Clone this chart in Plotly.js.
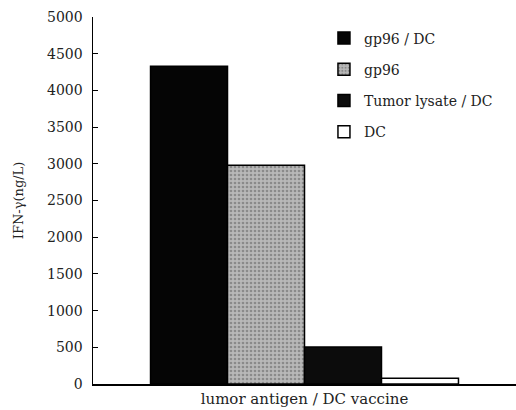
<!DOCTYPE html>
<html><head><meta charset="utf-8">
<script src="https://cdn.plot.ly/plotly-3.0.1.min.js"></script>
<style>html,body{margin:0;padding:0;background:#fff}</style>
</head><body>
<div id="chart" style="width:516px;height:410px"></div>
<script>
const category = ["lumor antigen / DC vaccine"];
const seriesNames = ["gp96 / DC", "gp96", "Tumor lysate / DC", "DC"];
const seriesValues = [[4330], [2980], [505], [80]];
const yTicks = [0, 500, 1000, 1500, 2000, 2500, 3000, 3500, 4000, 4500, 5000];

const styles = [
  {color: "#050505", pattern: null},
  {color: "#b4b4b4", pattern: {shape: ".", fgcolor: "#8a8a8a", bgcolor: "#b8b8b8", size: 4, solidity: 0.35}},
  {color: "#0c0c0c", pattern: null},
  {color: "#ffffff", pattern: null}
];
const font = "DejaVu Serif";

const traces = seriesNames.map((n, i) => {
  const m = {color: styles[i].color, line: {color: "#000", width: 1.5}};
  if (styles[i].pattern) m.pattern = styles[i].pattern;
  return {type: "bar", name: n, x: category, y: seriesValues[i], marker: m, legendgroup: "g" + i};
});

const layout = {
  width: 516, height: 410,
  margin: {l: 93, r: 0, t: 17, b: 26},
  paper_bgcolor: "#fff", plot_bgcolor: "#fff",
  barmode: "group", bargap: 0.272, bargroupgap: 0,
  font: {family: font, size: 14, color: "#222"},
  showlegend: true,
  legend: {x: 0.546, y: 0.985, xanchor: "left", yanchor: "top", bgcolor: "rgba(0,0,0,0)",
           font: {family: font, size: 14, color: "#222"}, tracegroupgap: 10, itemwidth: 30},
  xaxis: {type: "category", range: [-0.5, 0.5], showline: true, linecolor: "#000", linewidth: 1.5,
          ticks: "", showgrid: false, zeroline: false, tickfont: {family: font, size: 15, color: "#222"}},
  yaxis: {range: [0, 5000], tickvals: yTicks, ticktext: yTicks.map(String), showline: true, linecolor: "#000",
          linewidth: 1.5, ticks: "inside", ticklen: 5, tickcolor: "#000", showgrid: false, zeroline: false,
          tickfont: {family: font, size: 14, color: "#222"}, ticklabelstandoff: 6,
          title: {text: "IFN-γ(ng/L)", font: {family: font, size: 13, color: "#222"}, standoff: 20}}
};

Plotly.newPlot("chart", traces, layout, {displayModeBar: false, staticPlot: true});
</script>
</body></html>
